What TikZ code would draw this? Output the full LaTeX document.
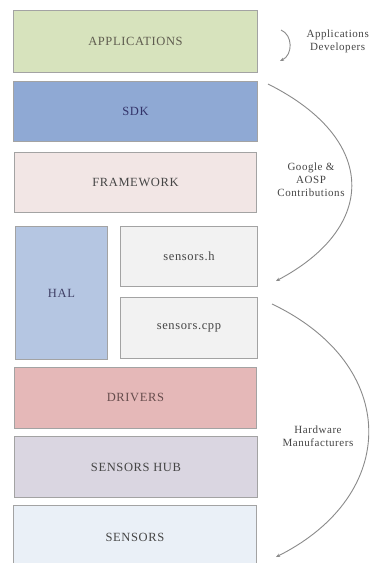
\documentclass[tikz,border=0pt]{standalone}
\usepackage{fontspec}
\setmainfont{Liberation Serif}
\usetikzlibrary{arrows.meta}
\definecolor{appc}{HTML}{D7E3BD}
\definecolor{sdkc}{HTML}{8FA9D4}
\definecolor{fwc}{HTML}{F2E6E5}
\definecolor{halc}{HTML}{B5C6E2}
\definecolor{srcc}{HTML}{F2F2F2}
\definecolor{drvc}{HTML}{E5B8B8}
\definecolor{hubc}{HTML}{DAD6E1}
\definecolor{sensc}{HTML}{EAF0F7}
\definecolor{edgec}{HTML}{A3A3A3}
\definecolor{txtc}{HTML}{454545}
\definecolor{arcc}{HTML}{8A8A8A}
\tikzset{
  layer/.style={draw=edgec, line width=0.9pt, anchor=north west, inner sep=0pt,
    font=\fontsize{12.5}{14}\selectfont\addfontfeatures{LetterSpace=5}, text=txtc},
  side/.style={align=center, font=\fontsize{11}{13}\selectfont\addfontfeatures{LetterSpace=5}, text=txtc},
  flow/.style={draw=arcc, line width=0.9pt, -{Stealth[length=4pt,width=3.5pt]}}
}
\begin{document}
\begin{tikzpicture}[x=1pt,y=-1pt]
\useasboundingbox (0,0) rectangle (370,563);
\clip (0,0) rectangle (370,563);
\fill[white] (0,0) rectangle (370,563);
\node[layer, fill=appc, minimum width=244pt, minimum height=62pt, text=black!75!olive!60!gray] (app) at (13,10) {APPLICATIONS};
\node[layer, fill=sdkc, minimum width=244pt, minimum height=60pt, text=black!65!blue!60!gray] (sdk) at (13,81) {SDK};
\node[layer, fill=fwc, minimum width=242pt, minimum height=60pt] (fw) at (14,152) {FRAMEWORK};
\node[layer, fill=halc, minimum width=92pt, minimum height=133pt, text=black!70!blue!50!gray] (hal) at (15,226) {HAL};
\node[layer, fill=srcc, minimum width=137pt, minimum height=60pt] (sh) at (120,226) {sensors.h};
\node[layer, fill=srcc, minimum width=137pt, minimum height=61pt] (scpp) at (120,297) {sensors.cpp};
\node[layer, fill=drvc, minimum width=242pt, minimum height=61pt, text=black!75!red!40!gray] (drv) at (14,367) {DRIVERS};
\node[layer, fill=hubc, minimum width=243pt, minimum height=61pt] (hub) at (14,436) {SENSORS HUB};
\node[layer, fill=sensc, minimum width=243pt, minimum height=64pt] (sens) at (13,505) {SENSORS};

\node[side, anchor=west] (devs) at (303,41) {Applications\\Developers};
\node[side] (google) at (311,180) {Google \&\\AOSP\\Contributions};
\node[side] (hw) at (318,436) {Hardware\\Manufacturers};

\coordinate (a1) at (281,30);
\coordinate (a2) at (280,61);
\coordinate (b1) at (268,84);
\coordinate (b2) at (276,281);
\coordinate (c1) at (272,304);
\coordinate (c2) at (276,557);
\draw[flow] (a1) .. controls (293,35) and (293,55) .. (a2);
\draw[flow] (b1) .. controls (378,139) and (378,227) .. (b2);
\draw[flow] (c1) .. controls (400,365) and (400,495) .. (c2);
\end{tikzpicture}
\end{document}
